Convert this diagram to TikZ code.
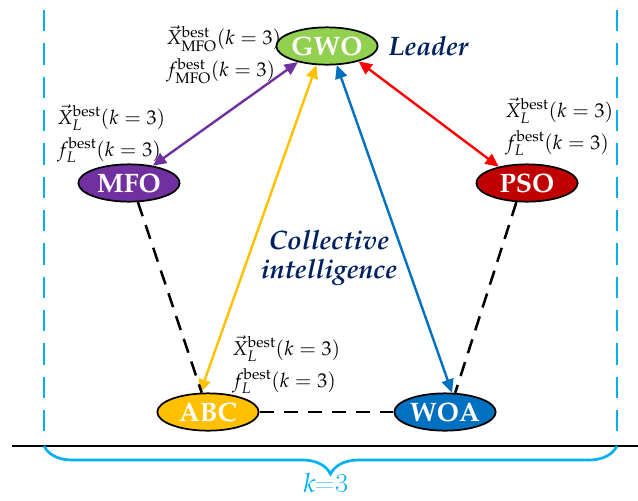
\documentclass[tikz,border=0pt]{standalone}
\usepackage[T1]{fontenc}
\usepackage{mathpazo}
\usepackage{tikz}
\usetikzlibrary{arrows.meta, positioning, shapes.geometric, decorations.pathreplacing}
\definecolor{gwocol}{HTML}{92D050}
\definecolor{mfocol}{HTML}{7030A0}
\definecolor{psocol}{HTML}{C00000}
\definecolor{abccol}{HTML}{FFC000}
\definecolor{woacol}{HTML}{0070C0}
\definecolor{redcol}{HTML}{FF0000}
\definecolor{navycol}{HTML}{002060}
\definecolor{groupcol}{HTML}{00B0F0}
\newcommand{\bestinfo}[1]{$\vec{X}^{\mathrm{best}}_{#1}(k=3)$\\$f^{\mathrm{best}}_{#1}(k=3)$}

\begin{document}
\begin{tikzpicture}[x=0.75pt, y=-0.75pt,
      algo/.style={ellipse, draw, line width=1.3pt, minimum width=76pt, minimum height=28pt,
                   inner sep=0pt, text=white, font=\fontsize{20}{22}\selectfont\bfseries},
      info/.style={anchor=west, align=left, inner sep=0pt, font=\fontsize{15}{24}\selectfont},
      tag/.style={text=navycol, align=center, inner sep=0pt,
                  font=\fontsize{20}{22}\selectfont\bfseries\itshape},
      link/.style={line width=1.8pt, {Triangle[length=10pt,width=9pt]}-{Triangle[length=10pt,width=9pt]}},
      peer/.style={line width=1.9pt, dash pattern=on 11pt off 7pt},
      group/.style={groupcol, line width=2pt}]
    \useasboundingbox (0,0) rectangle (638,500);
    % algorithms
    \node[algo, fill=gwocol] (gwo) at (327,46) {GWO};
    \node[algo, fill=mfocol] (mfo) at (129,183) {MFO};
    \node[algo, fill=psocol] (pso) at (527,183) {PSO};
    \node[algo, fill=abccol] (abc) at (208,412) {ABC};
    \node[algo, fill=woacol] (woa) at (445,412) {WOA};
    % best solutions
    \node[info] (gwoinfo) at (166,55) {\bestinfo{\mathrm{MFO}}};
    \node[info] (mfoinfo) at (57,134) {\bestinfo{L}};
    \node[info] (psoinfo) at (505,127) {\bestinfo{L}};
    \node[info] (abcinfo) at (232,365) {\bestinfo{L}};
    \node[tag, anchor=west] (leader) at (388,46) {Leader};
    \node[tag] (collect) at (329,258) {Collective\\intelligence};
    % exchange with the leader
    \draw[link, mfocol] (gwo.209) -- (mfo.36);
    \draw[link, abccol] (gwo.241) -- (abc.112);
    \draw[link, woacol] (gwo.297) -- (woa.70);
    \draw[link, redcol] (gwo.334) -- (pso.150);
    % neighbours
    \draw[peer] (mfo.295) -- (abc.108);
    \draw[peer] (pso.241) -- (woa.62);
    \draw[peer] (abc) -- (woa);
    % group k=3
    \draw[group, dash pattern=on 16pt off 9pt] (44,10) -- (44,433);
    \draw[group, dash pattern=on 16pt off 9pt] (617,10) -- (617,433);
    \draw[line width=1.6pt] (12,446) -- (638,446);
    \draw[group, decorate, decoration={brace, mirror, amplitude=21pt}] (44,446) -- (617,446);
    \node[text=groupcol, inner sep=0pt, font=\fontsize{20}{22}\selectfont] (kval) at (326,483) {$k$\textsf{=3}};
  \end{tikzpicture}
\end{document}
